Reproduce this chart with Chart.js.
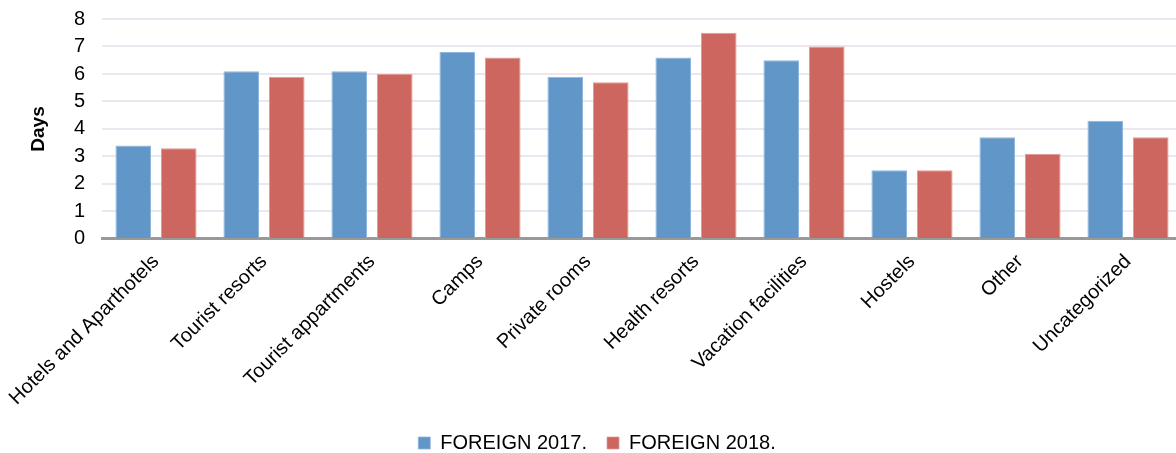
<!DOCTYPE html>
<html>
<head>
<meta charset="utf-8">
<script src="https://cdn.jsdelivr.net/npm/chart.js@4/dist/chart.umd.min.js"></script>
<style>
html,body{margin:0;padding:0;background:#fff;overflow:hidden;width:1176px;height:453px;}
#wrap{width:1182px;height:453px;position:relative;}
</style>
</head>
<body>
<div id="wrap"><canvas id="c"></canvas></div>
<script>
const categories = ["Hotels and Aparthotels","Tourist resorts","Tourist appartments","Camps","Private rooms","Health resorts","Vacation facilities","Hostels","Other","Uncategorized"];
const foreign2017 = [3.4, 6.1, 6.1, 6.8, 5.9, 6.6, 6.5, 2.5, 3.7, 4.3];
const foreign2018 = [3.3, 5.9, 6.0, 6.6, 5.7, 7.5, 7.0, 2.5, 3.1, 3.7];
const seriesNames = ["FOREIGN 2017.", "FOREIGN 2018."];
const yTicks = [0,1,2,3,4,5,6,7,8];

Chart.defaults.font.family = "'Liberation Sans', Arial, sans-serif";
Chart.defaults.color = "#000";

new Chart(document.getElementById('c'), {
  type: 'bar',
  data: {
    labels: categories,
    datasets: [
      {label: seriesNames[0], data: foreign2017, backgroundColor: '#6096C8', borderColor:'#8FB6DC', borderWidth:{left:1,right:1,top:1,bottom:0}, categoryPercentage:0.843, barPercentage:0.782},
      {label: seriesNames[1], data: foreign2018, backgroundColor: '#CC665F', borderColor:'#E09B96', borderWidth:{left:1,right:1,top:1,bottom:0}, categoryPercentage:0.843, barPercentage:0.782}
    ]
  },
  options: {
    responsive: true,
    maintainAspectRatio: false,
    animation: false,
    layout: {padding: {top: 3, right: 0, left: 12, bottom: -10}},
    plugins: {
      tooltip: {enabled:false},
      legend: {
        position: 'bottom',
        labels: {boxWidth: 12, boxHeight: 12, font: {size: 20}, padding: 20, color:'#000'}
      }
    },
    scales: {
      x: {
        grid: {display: false},
        border: {display: true, color: '#999999', width: 3},
        ticks: {font: {size: 20}, maxRotation: 45, minRotation: 45, autoSkip:false, color:'#000'},
        afterFit: (s) => { s.paddingLeft = 0; s.paddingRight = 0; }
      },
      y: {
        min: 0, max: 8,
        afterBuildTicks: (axis) => { axis.ticks = yTicks.map(v => ({value: v})); },
        grid: {color: '#ECE6F0', lineWidth: 2, drawTicks: false},
        border: {display: false},
        ticks: {font: {size: 20}, padding: 17, color:'#000', autoSkip: false},
        title: {display: true, text: 'Days', font: {size: 19, weight: 'bold'}, color:'#000', padding: {top: 15, bottom: 24}},
        afterFit: (s) => { s.width = 90; s.paddingTop = 19; s.paddingBottom = 0; s.paddingLeft = 0; s.paddingRight = 0; }
      }
    }
  }
});
</script>
</body>
</html>
